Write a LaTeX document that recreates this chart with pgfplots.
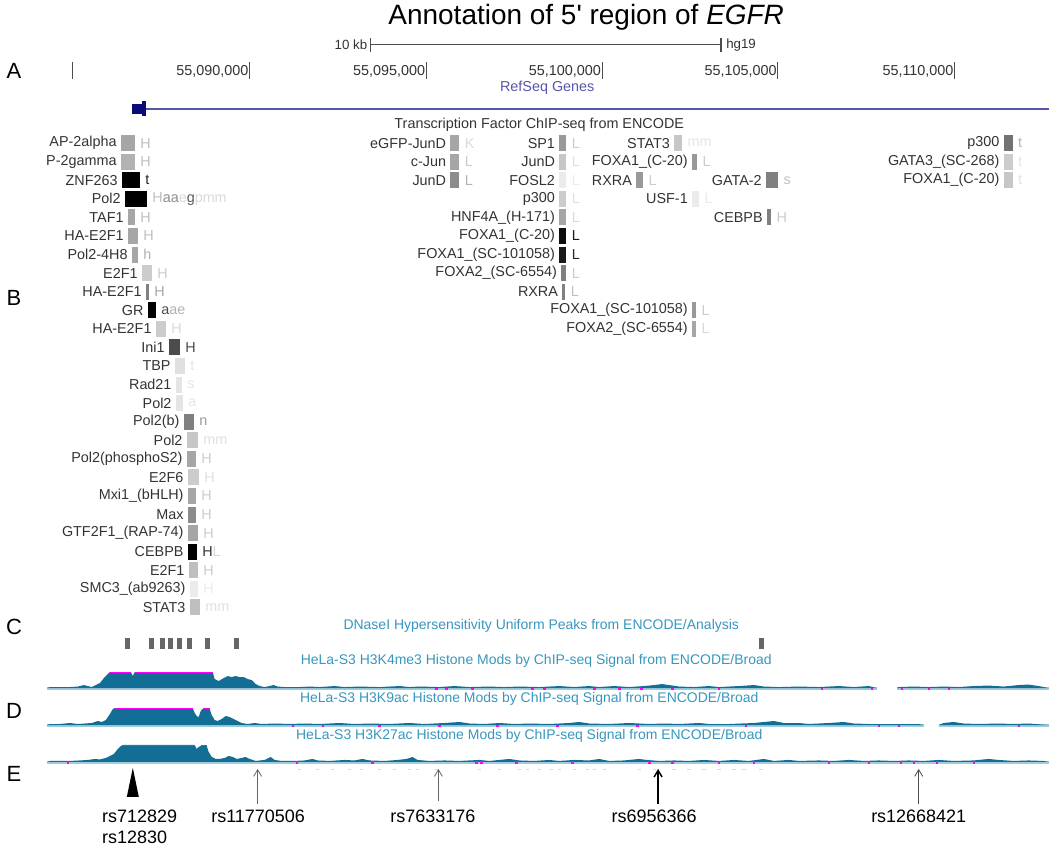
\documentclass[border=0pt]{standalone}
\usepackage{pgfplots}
\pgfplotsset{compat=1.18}
\usepackage{fontspec}
\setmainfont{Liberation Sans}
\usetikzlibrary{arrows.meta}
\definecolor{sig}{RGB}{18,110,148}
\definecolor{band}{RGB}{160,205,222}
\definecolor{ttl}{RGB}{55,150,190}
\definecolor{gene}{RGB}{85,85,170}
\definecolor{navy}{RGB}{10,10,120}
\definecolor{mag}{RGB}{255,0,255}
\newcommand{\lab}{\fontsize{10.8}{12}\selectfont}
\newcommand{\tf}[6]{%
  \pgfmathsetmacro\ytop{#4-8}\pgfmathsetmacro\ybot{#4+8}%
  \edef\tmp{\noexpand\addplot[fill=#5,draw=none,forget plot] coordinates {(#2,\ytop) (#3,\ytop) (#3,\ybot) (#2,\ybot)};}\tmp
  \node[anchor=east,inner sep=0pt,xshift=-3pt,text=black!80] at (axis cs:#2,#4) {\lab #1};
  \node[anchor=west,inner sep=0pt,xshift=4pt] at (axis cs:#3,#4) {\lab #6};
}
\newcommand{\rect}[5]{%
  \addplot[fill=#5,draw=none,forget plot] coordinates {(#1,#3) (#2,#3) (#2,#4) (#1,#4)};
}
\begin{document}
\begin{tikzpicture}
\begin{axis}[scale only axis, width=787.5pt, height=634.5pt,
  xmin=0, xmax=1050, ymin=0, ymax=846, y dir=reverse,
  axis lines=none, clip=false]
\path (rel axis cs:0,0) (rel axis cs:1,1);
% title
\node[inner sep=0pt] at (axis cs:587,17) {\fontsize{21}{24}\selectfont Annotation of 5\textquotesingle{} region of \textit{EGFR}};
% panel letters
\node[inner sep=0pt] at (axis cs:14,71) {\fontsize{16.5}{18}\selectfont A};
\node[inner sep=0pt] at (axis cs:14,298) {\fontsize{16.5}{18}\selectfont B};
\node[inner sep=0pt] at (axis cs:14,628) {\fontsize{16.5}{18}\selectfont C};
\node[inner sep=0pt] at (axis cs:14,712) {\fontsize{16.5}{18}\selectfont D};
\node[inner sep=0pt] at (axis cs:14,775) {\fontsize{16.5}{18}\selectfont E};
% scale bar
\addplot[black!70, line width=0.8pt, forget plot] coordinates {(371,45) (722,45)};
\addplot[black!70, line width=0.8pt, forget plot] coordinates {(371,38) (371,52)};
\addplot[black!70, line width=0.8pt, forget plot] coordinates {(722,38) (722,52)};
\node[anchor=east,inner sep=0pt,text=black!80] at (axis cs:368,45) {\fontsize{10}{12}\selectfont 10 kb};
\node[anchor=west,inner sep=0pt,text=black!80] at (axis cs:727,45) {\fontsize{10}{12}\selectfont hg19};
% coordinate ticks
\addplot[black!70, line width=0.8pt, forget plot] coordinates {(73,62) (73,79)};
\addplot[black!70, line width=0.8pt, forget plot] coordinates {(250,62) (250,79)};
\addplot[black!70, line width=0.8pt, forget plot] coordinates {(427,62) (427,79)};
\addplot[black!70, line width=0.8pt, forget plot] coordinates {(603,62) (603,79)};
\addplot[black!70, line width=0.8pt, forget plot] coordinates {(779,62) (779,79)};
\addplot[black!70, line width=0.8pt, forget plot] coordinates {(956,62) (956,79)};
\node[anchor=east,inner sep=0pt,text=black!80] at (axis cs:249,71) {\lab 55,090,000};
\node[anchor=east,inner sep=0pt,text=black!80] at (axis cs:426,71) {\lab 55,095,000};
\node[anchor=east,inner sep=0pt,text=black!80] at (axis cs:602,71) {\lab 55,100,000};
\node[anchor=east,inner sep=0pt,text=black!80] at (axis cs:778,71) {\lab 55,105,000};
\node[anchor=east,inner sep=0pt,text=black!80] at (axis cs:955,71) {\lab 55,110,000};
% RefSeq
\node[inner sep=0pt,text=gene] at (axis cs:548,88) {\lab RefSeq Genes};
\addplot[gene, line width=1.1pt, forget plot] coordinates {(145,109) (1050,109)};
\rect{132}{143}{104}{114}{navy}
\rect{142}{146}{101}{116}{navy}
% TF title
\node[inner sep=0pt,text=black!80] at (axis cs:540,125) {\lab Transcription Factor ChIP-seq from ENCODE};
% left column
\tf{AP-2alpha}{121}{135}{143.3}{black!35}{\color{black!25}H}
\tf{P-2gamma}{121}{135}{161.9}{black!30}{\color{black!25}H}
\tf{ZNF263}{122}{140}{180.5}{black}{\color{black!85}t}
\tf{Pol2}{125}{147}{199.1}{black}{{\color{black!25}H}{\color{black!45}aa}{\color{black!15}e}{\color{black!65}g}{\color{black!15}pmm}}
\tf{TAF1}{128}{135}{217.7}{black!35}{\color{black!25}H}
\tf{HA-E2F1}{128}{138}{236.3}{black!35}{\color{black!25}H}
\tf{Pol2-4H8}{132}{138}{254.9}{black!35}{\color{black!30}h}
\tf{E2F1}{142}{152}{273.5}{black!20}{\color{black!20}H}
\tf{HA-E2F1}{146}{149}{292.1}{black!50}{\color{black!35}H}
\tf{GR}{148}{156}{310.7}{black}{{\color{black!70}a}{\color{black!30}ae}}
\tf{HA-E2F1}{156}{166}{329.3}{black!20}{\color{black!15}H}
\tf{Ini1}{169}{180}{347.9}{black!70}{\color{black!70}H}
\tf{TBP}{175}{185}{366.5}{black!12}{\color{black!10}t}
\tf{Rad21}{176}{182}{385.1}{black!10}{\color{black!10}s}
\tf{Pol2}{176}{183}{403.7}{black!10}{\color{black!10}a}
\tf{Pol2(b)}{184}{194}{422.3}{black!50}{\color{black!40}n}
\tf{Pol2}{187}{198}{440.9}{black!22}{\color{black!12}mm}
\tf{Pol2(phosphoS2)}{187}{196}{459.5}{black!35}{\color{black!20}H}
\tf{E2F6}{188}{199}{478.1}{black!20}{\color{black!12}H}
\tf{Mxi1\_(bHLH)}{188}{196}{496.7}{black!35}{\color{black!20}H}
\tf{Max}{188}{196}{515.3}{black!45}{\color{black!20}H}
\tf{GTF2F1\_(RAP-74)}{188}{198}{533.9}{black!35}{\color{black!20}H}
\tf{CEBPB}{188}{197}{552.5}{black}{{\color{black!80}H}{\color{black!15}L}}
\tf{E2F1}{189}{198}{571.1}{black!25}{\color{black!20}H}
\tf{SMC3\_(ab9263)}{190}{198}{589.7}{black!8}{\color{black!8}H}
\tf{STAT3}{190}{200}{608.3}{black!25}{\color{black!12}mm}
% middle columns
\tf{eGFP-JunD}{451}{460}{143.3}{black!35}{\color{black!15}K}
\tf{c-Jun}{451}{460}{161.9}{black!35}{\color{black!20}L}
\tf{JunD}{451}{460}{180.5}{black!45}{\color{black!30}L}
\tf{SP1}{560}{567}{143.3}{black!40}{\color{black!20}L}
\tf{JunD}{560}{567}{161.9}{black!22}{\color{black!12}L}
\tf{FOSL2}{560}{567}{180.5}{black!8}{\color{black!8}L}
\tf{p300}{560}{567}{199.1}{black!20}{\color{black!12}L}
\tf{HNF4A\_(H-171)}{560}{567}{217.7}{black!35}{\color{black!15}L}
\tf{FOXA1\_(C-20)}{560}{567}{236.3}{black!95}{\color{black!90}L}
\tf{FOXA1\_(SC-101058)}{560}{567}{254.9}{black!90}{\color{black!85}L}
\tf{FOXA2\_(SC-6554)}{562}{567}{273.5}{black!50}{\color{black!20}L}
\tf{RXRA}{563}{566}{292.1}{black!50}{\color{black!25}L}
\tf{STAT3}{675}{683}{143.3}{black!22}{\color{black!10}mm}
\tf{FOXA1\_(C-20)}{693}{698}{161.9}{black!40}{\color{black!20}L}
\tf{RXRA}{637}{644}{180.5}{black!40}{\color{black!20}L}
\tf{GATA-2}{767}{779}{180.5}{black!50}{\color{black!25}s}
\tf{USF-1}{693}{700}{199.1}{black!8}{\color{black!8}L}
\tf{CEBPB}{768}{772}{217.7}{black!50}{\color{black!20}H}
\tf{FOXA1\_(SC-101058)}{693}{697}{310.7}{black!40}{\color{black!20}L}
\tf{FOXA2\_(SC-6554)}{693}{697}{329.3}{black!35}{\color{black!15}L}
\tf{p300}{1005}{1014}{143.3}{black!55}{\color{black!30}t}
\tf{GATA3\_(SC-268)}{1005}{1014}{161.9}{black!20}{\color{black!10}t}
\tf{FOXA1\_(C-20)}{1005}{1014}{180.5}{black!22}{\color{black!12}t}
% C: DNase
\node[inner sep=0pt,text=ttl] at (axis cs:542,627) {\fontsize{10.5}{12}\selectfont DNaseI Hypersensitivity Uniform Peaks from ENCODE/Analysis};
\rect{125.5}{130.5}{639}{650}{black!60}
\rect{149.5}{154.5}{639}{650}{black!60}
\rect{160.5}{165.5}{639}{650}{black!60}
\rect{168.5}{173.5}{639}{650}{black!60}
\rect{177.5}{182.5}{639}{650}{black!60}
\rect{187.5}{192.5}{639}{650}{black!60}
\rect{205.5}{210.5}{639}{650}{black!60}
\rect{234.5}{239.5}{639}{650}{black!60}
\rect{760.5}{765.5}{639}{650}{black!60}
% track titles
\node[inner sep=0pt,text=ttl] at (axis cs:537,662) {\fontsize{10.5}{12}\selectfont HeLa-S3 H3K4me3 Histone Mods by ChIP-seq Signal from ENCODE/Broad};
\node[inner sep=0pt,text=ttl] at (axis cs:530,700) {\fontsize{10.5}{12}\selectfont HeLa-S3 H3K9ac Histone Mods by ChIP-seq Signal from ENCODE/Broad};
\node[inner sep=0pt,text=ttl] at (axis cs:530,737) {\fontsize{10.5}{12}\selectfont HeLa-S3 H3K27ac Histone Mods by ChIP-seq Signal from ENCODE/Broad};
% baselines
\addplot[band, line width=2.2pt, forget plot] coordinates {(47,689.5) (878,689.5)};
\addplot[band, line width=2.2pt, forget plot] coordinates {(898,689.5) (1050,689.5)};
\addplot[band, line width=2.2pt, forget plot] coordinates {(47,726.5) (925,726.5)};
\addplot[band, line width=2.2pt, forget plot] coordinates {(940,726.5) (1050,726.5)};
\addplot[band, line width=2.2pt, forget plot] coordinates {(47,763.5) (1050,763.5)};
% track C signal
\addplot[fill=sig, draw=none, forget plot] table[row sep=\\, x=x, y expr=689-\thisrow{h}] {
x h\\ 47 0\\ 50 1\\ 60 1\\ 70 1\\ 78 1.5\\ 84 3\\ 88 2\\ 92 1\\ 96 3\\ 100 5\\ 104 10\\ 108 14\\ 110 16\\ 131 16\\ 133 12\\ 135 16\\ 213 16\\ 215 9\\ 219 7\\ 224 10\\ 228 12\\ 232 11\\ 236 12\\ 240 11\\ 244 11\\ 248 9\\ 252 8\\ 256 4\\ 260 2\\ 265 1\\ 270 2\\ 274 3\\ 278 1.5\\ 285 1\\ 300 1\\ 310 1.5\\ 320 1\\ 335 2\\ 345 1\\ 360 1.5\\ 380 1\\ 400 2\\ 410 1\\ 420 1.5\\ 440 1\\ 455 2\\ 470 1\\ 490 1.5\\ 505 1\\ 520 1.5\\ 540 1\\ 560 2\\ 575 1\\ 590 2\\ 600 1\\ 615 2\\ 630 1\\ 645 2\\ 655 3\\ 663 4\\ 670 3\\ 680 1.5\\ 695 1\\ 710 2\\ 720 1\\ 740 2\\ 755 3\\ 765 1.5\\ 780 1\\ 800 1.5\\ 820 1\\ 840 2\\ 855 1\\ 870 2\\ 878 0\\
};
\addplot[fill=sig, draw=none, forget plot] table[row sep=\\, x=x, y expr=689-\thisrow{h}] {
x h\\ 898 0\\ 900 1\\ 915 1.5\\ 930 1\\ 945 1.5\\ 960 1\\ 975 2\\ 990 2.5\\ 1005 1.5\\ 1020 3\\ 1030 3.5\\ 1040 2\\ 1050 0\\
};
% track D signal
\addplot[fill=sig, draw=none, forget plot] table[row sep=\\, x=x, y expr=726-\thisrow{h}] {
x h\\ 47 0\\ 50 1\\ 60 1\\ 70 2\\ 78 1\\ 85 1.5\\ 92 2\\ 98 4\\ 102 3\\ 106 5\\ 110 11\\ 113 16\\ 115 17\\ 193 17\\ 195 12\\ 197 9\\ 199 8\\ 201 14\\ 203 16\\ 210 16\\ 212 10\\ 215 5\\ 218 4\\ 222 6\\ 226 9\\ 230 8\\ 234 6\\ 238 4\\ 242 2\\ 248 1\\ 255 2\\ 262 1\\ 275 1.5\\ 290 1\\ 305 1.5\\ 320 1\\ 340 2\\ 355 1\\ 370 1.5\\ 390 1\\ 410 2\\ 425 1\\ 445 2\\ 460 3\\ 470 1.5\\ 485 1\\ 500 2\\ 515 1\\ 530 1.5\\ 550 1\\ 570 2\\ 580 3\\ 590 1.5\\ 610 1\\ 630 2\\ 650 1\\ 665 1.5\\ 680 1\\ 700 2\\ 710 1\\ 730 1\\ 755 2\\ 775 4\\ 785 2\\ 800 2\\ 810 1\\ 830 2\\ 845 3\\ 855 1.5\\ 870 1\\ 885 1\\ 900 1\\ 920 1\\ 925 0\\
};
\addplot[fill=sig, draw=none, forget plot] table[row sep=\\, x=x, y expr=726-\thisrow{h}] {
x h\\ 940 0\\ 945 2\\ 955 3\\ 965 1.5\\ 980 1\\ 1000 1.5\\ 1015 1\\ 1030 1.5\\ 1050 0\\
};
% track E signal
\addplot[fill=sig, draw=none, forget plot] table[row sep=\\, x=x, y expr=763-\thisrow{h}] {
x h\\ 47 0\\ 50 1\\ 60 1\\ 70 1\\ 80 1.5\\ 88 2\\ 95 3\\ 100 2.5\\ 106 4\\ 110 6\\ 114 8\\ 118 13\\ 121 16\\ 123 17\\ 195 17\\ 197 13\\ 199 15\\ 201 16\\ 207 16\\ 209 10\\ 212 5\\ 216 3\\ 220 3\\ 225 4\\ 229 6\\ 233 5\\ 237 3\\ 242 4\\ 246 5\\ 250 3\\ 256 1\\ 265 2\\ 271 5\\ 275 2\\ 282 1\\ 295 1\\ 305 1.5\\ 313 3\\ 318 1.5\\ 330 1\\ 345 2\\ 355 1.5\\ 363 3\\ 370 1.5\\ 385 1\\ 398 2\\ 407 3\\ 413 5\\ 418 2\\ 430 1\\ 445 1.5\\ 460 1\\ 480 2\\ 490 1\\ 500 2\\ 510 3\\ 520 1.5\\ 535 1\\ 550 2\\ 560 1\\ 575 2\\ 590 1.5\\ 600 3\\ 610 1\\ 625 1.5\\ 640 3\\ 648 2\\ 660 1\\ 675 1.5\\ 690 1\\ 705 2\\ 720 1\\ 735 2\\ 750 1\\ 765 3\\ 775 1\\ 790 2\\ 800 1\\ 820 1.5\\ 835 1\\ 850 2\\ 865 1\\ 880 1.5\\ 895 1\\ 910 1.5\\ 925 1\\ 940 2\\ 955 1\\ 975 1.5\\ 990 3\\ 1000 2\\ 1015 1\\ 1030 1.5\\ 1045 1\\ 1050 0\\
};
% magenta clip lines
\addplot[mag, line width=1.3pt, forget plot] coordinates {(110,673.5) (131,673.5)};
\addplot[mag, line width=1.3pt, forget plot] coordinates {(135,673.5) (213,673.5)};
\addplot[mag, line width=1.3pt, forget plot] coordinates {(115,709.5) (193,709.5)};
\addplot[mag, line width=1.3pt, forget plot] coordinates {(203,709.5) (210,709.5)};
\addplot[mag, line width=1.3pt, forget plot] coordinates {(123,746.5) (195,746.5)};
\addplot[mag, line width=1.3pt, forget plot] coordinates {(201,746.5) (207,746.5)};
% magenta baseline dots
\addplot[only marks, mark=square*, mark size=0.55pt, mag, forget plot] coordinates {
(437,689.5) (447,689.5) (473,689.5) (533,689.5) (545,689.5) (595,689.5) (620,689.5) (642,689.5) (673,689.5) (720,689.5) (823,689.5) (873,689.5) (903,689.5) (930,689.5) (950,689.5)
(293,726.5) (323,726.5) (380,726.5) (440,726.5) (498,726.5) (558,726.5) (638,726.5) (747,726.5) (880,726.5) (900,726.5) (1020,726.5)
(68,763.5) (297,763.5) (373,763.5) (477,763.5) (482,763.5) (517,763.5) (573,763.5) (650,763.5) (673,763.5) (720,763.5) (755,763.5) (830,763.5) (870,763.5) (902,763.5) (915,763.5) (938,763.5) (975,763.5)
};
% faint SNP track marks
\addplot[only marks, mark=-, mark size=1.2pt, black!15, forget plot] coordinates {
(300,770) (318,770) (333,770) (350,770) (362,770) (380,770) (395,770) (410,770) (418,770) (437,770) (480,770) (500,770) (520,770) (528,770) (540,770) (552,770) (560,770) (575,770) (588,770) (595,770) (605,770) (640,770) (655,770) (675,770) (690,770) (705,770) (720,770) (735,770) (745,770) (762,770)
};
% SNPs
\addplot[fill=black, draw=none, forget plot] coordinates {(127,798) (139,798) (133,769)};
\addplot[black!60, line width=0.6pt, -{Straight Barb[length=5pt,width=6pt]}, forget plot] coordinates {(258,805) (258,770)};
\addplot[black!60, line width=0.6pt, -{Straight Barb[length=5pt,width=6pt]}, forget plot] coordinates {(439,802) (439,770)};
\addplot[black, line width=1.1pt, -{Straight Barb[length=5pt,width=6pt]}, forget plot] coordinates {(659,805) (659,770)};
\addplot[black!70, line width=0.6pt, -{Straight Barb[length=5pt,width=6pt]}, forget plot] coordinates {(920,805) (920,770)};
\node[anchor=west,inner sep=0pt] at (axis cs:102,817) {\fontsize{13.5}{15}\selectfont rs712829};
\node[anchor=west,inner sep=0pt] at (axis cs:102,838) {\fontsize{13.5}{15}\selectfont rs12830};
\node[inner sep=0pt] at (axis cs:258.5,817) {\fontsize{13.5}{15}\selectfont rs11770506};
\node[inner sep=0pt] at (axis cs:433.5,817) {\fontsize{13.5}{15}\selectfont rs7633176};
\node[inner sep=0pt] at (axis cs:655,817) {\fontsize{13.5}{15}\selectfont rs6956366};
\node[inner sep=0pt] at (axis cs:920,817) {\fontsize{13.5}{15}\selectfont rs12668421};
\end{axis}
\end{tikzpicture}
\end{document}
